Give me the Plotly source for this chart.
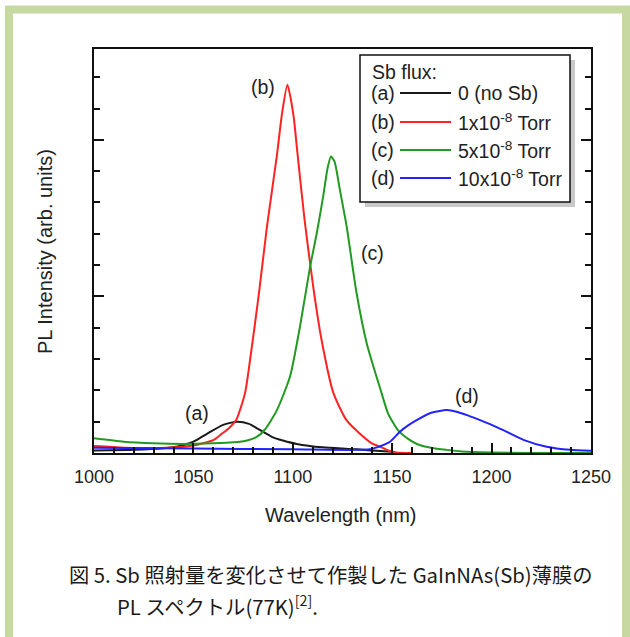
import plotly.graph_objects as go

# ---------------- data ----------------
wl_a = [1000, 1020, 1035, 1042, 1048, 1052, 1057, 1065, 1072, 1078, 1082, 1090, 1095, 1102, 1115, 1125, 1132, 1140, 1150]
pl_a = [0.08, 0.10, 0.15, 0.21, 0.31, 0.43, 0.62, 0.90, 1.00, 0.93, 0.79, 0.50, 0.40, 0.29, 0.18, 0.14, 0.12, 0.08, 0.04]

wl_b = [1000, 1015, 1031, 1048, 1060, 1064, 1068, 1071.5, 1076, 1078.5, 1083, 1087, 1092, 1094.5, 1097.3,
        1100.3, 1102.3, 1106, 1110.3, 1114.5, 1120.4, 1127, 1135.5, 1140, 1144, 1148, 1152, 1160]
pl_b = [0.22, 0.17, 0.15, 0.22, 0.41, 0.60, 0.80, 1.05, 1.92, 2.97, 5.11, 7.23, 9.50, 10.80, 11.76,
        10.80, 9.60, 7.40, 5.30, 3.60, 1.92, 1.05, 0.52, 0.30, 0.20, 0.08, 0.02, 0.0]

wl_c = [1000, 1015, 1030, 1045, 1060, 1070, 1077, 1082, 1086, 1092, 1098.6, 1103.6, 1108.7, 1112, 1115.3,
        1117.5, 1119.2, 1121, 1123.7, 1127.1, 1132.1, 1137.2, 1144, 1148, 1153, 1158, 1163, 1170, 1177.4,
        1185, 1195, 1250]
pl_c = [0.47, 0.36, 0.31, 0.29, 0.31, 0.34, 0.40, 0.52, 0.75, 1.37, 2.44, 4.03, 5.95, 7.00, 8.20,
        9.10, 9.47, 9.30, 8.40, 7.23, 5.10, 3.50, 2.05, 1.25, 0.72, 0.45, 0.27, 0.16, 0.10,
        0.05, 0.02, 0.0]

wl_d = [1000, 1050, 1100, 1130, 1138.8, 1144, 1148.9, 1153.9, 1158, 1162.3, 1169, 1177.4, 1182.4, 1188,
        1194.2, 1200, 1205.9, 1216, 1227.7, 1239.4, 1250]
pl_d = [0.17, 0.14, 0.12, 0.10, 0.12, 0.22, 0.36, 0.68, 0.88, 1.05, 1.27, 1.37, 1.32, 1.20,
        1.05, 0.90, 0.73, 0.42, 0.20, 0.10, 0.07]

series_tags = ["(a)", "(b)", "(c)", "(d)"]
series_names = ["0 (no Sb)", "1x10<sup>-8</sup> Torr", "5x10<sup>-8</sup> Torr", "10x10<sup>-8</sup> Torr"]
series_colors = ["#1a1a1a", "#ff2222", "#229a22", "#2222ff"]
x_ticks = [1000, 1050, 1100, 1150, 1200, 1250]
y_major = [5, 10]

# ---------------- geometry helpers ----------------
W, H = 630, 637
L, R, T, B = 94, 591, 49, 453
def px(x):
    return (x - L) / (R - L)
def py(y):
    return (B - y) / (B - T)

FONT = "Liberation Sans, Arial, sans-serif"
TXT = "#222222"

fig = go.Figure()
for wl, pl, c, n in zip([wl_a, wl_b, wl_c, wl_d], [pl_a, pl_b, pl_c, pl_d], series_colors, series_names):
    fig.add_trace(go.Scatter(x=wl, y=pl, mode="lines", name=n, showlegend=False,
                             line=dict(color=c, width=2, shape="spline", smoothing=0.6)))

shapes = []
# outer green frame
shapes.append(dict(type="rect", xref="paper", yref="paper", x0=px(9), x1=px(626), y0=py(643), y1=py(9.5),
                   line=dict(color="#c6d9a1", width=8), fillcolor="rgba(0,0,0,0)", layer="below"))
# legend shadow and box
shapes.append(dict(type="rect", xref="paper", yref="paper", x0=px(365), x1=px(575), y0=py(207), y1=py(60),
                   line=dict(width=0), fillcolor="#c9c9c9"))
shapes.append(dict(type="rect", xref="paper", yref="paper", x0=px(360), x1=px(570), y0=py(202), y1=py(55),
                   line=dict(color="#111111", width=1.5), fillcolor="white"))

annotations = []
annotations.append(dict(xref="paper", yref="paper", x=px(370), y=py(72), xanchor="left", yanchor="middle",
                        text="Sb flux:", showarrow=False, font=dict(family=FONT, size=19.5, color=TXT)))
row_y = [93, 122, 150, 178]
for tag, name, col, yy in zip(series_tags, series_names, series_colors, row_y):
    annotations.append(dict(xref="paper", yref="paper", x=px(369), y=py(yy), xanchor="left", yanchor="middle",
                            text=tag, showarrow=False, font=dict(family=FONT, size=19.5, color=TXT)))
    shapes.append(dict(type="line", xref="paper", yref="paper", x0=px(400), x1=px(451), y0=py(yy), y1=py(yy),
                       line=dict(color=col, width=2)))
    annotations.append(dict(xref="paper", yref="paper", x=px(456), y=py(yy), xanchor="left", yanchor="middle",
                            text=name, showarrow=False, font=dict(family=FONT, size=19.5, color=TXT)))

# curve labels
for tag, xx, yy in zip(series_tags, [1051.8, 1085, 1140.3, 1187.6], [1.27, 11.69, 6.39, 1.82]):
    annotations.append(dict(x=xx, y=yy, text=tag, showarrow=False, xanchor="center", yanchor="middle",
                            font=dict(family=FONT, size=19.5, color=TXT)))

# axis titles
annotations.append(dict(xref="paper", yref="paper", x=px(45), y=py(252), text="PL Intensity (arb. units)",
                        xanchor="center", yanchor="middle",
                        textangle=-90, showarrow=False, font=dict(family=FONT, size=20, color=TXT)))
annotations.append(dict(xref="paper", yref="paper", x=px(341), y=py(515), text="Wavelength (nm)",
                        xanchor="center", yanchor="middle",
                        showarrow=False, font=dict(family=FONT, size=20, color=TXT)))

# caption
CJK = "Noto Sans CJK JP, sans-serif"
annotations.append(dict(xref="paper", yref="paper", x=px(67), y=py(574), xanchor="left", yanchor="middle",
                        text="図 5. Sb 照射量を変化させて作製した GaInNAs(Sb)薄膜の", showarrow=False,
                        font=dict(family=CJK, size=20.3, color="#1a1a1a")))
annotations.append(dict(xref="paper", yref="paper", x=px(115), y=py(605), xanchor="left", yanchor="middle",
                        text="PL スペクトル(77K)<sup>[2]</sup>.", showarrow=False,
                        font=dict(family=CJK, size=20.3, color="#1a1a1a")))

fig.update_layout(
    width=W, height=H,
    margin=dict(l=L, r=W - R, t=T, b=H - B),
    paper_bgcolor="white", plot_bgcolor="white",
    shapes=shapes, annotations=annotations,
    xaxis=dict(range=[1000, 1250], tickvals=x_ticks, ticks="inside", ticklen=10, tickwidth=2,
               tickcolor="#111111", showline=True, linecolor="#111111", linewidth=2, mirror=True,
               showgrid=False, zeroline=False, tickfont=dict(family=FONT, size=18, color=TXT),
               ticklabelstandoff=6,
               minor=dict(dtick=10, ticks="inside", ticklen=6, tickwidth=1.5, tickcolor="#111111", showgrid=False)),
    yaxis=dict(range=[0, 12.9], tickvals=y_major, ticks="inside", ticklen=10, tickwidth=2,
               tickcolor="#111111", showline=True, linecolor="#111111", linewidth=2, mirror="ticks",
               showgrid=False, zeroline=False, showticklabels=False,
               minor=dict(dtick=1, ticks="inside", ticklen=6, tickwidth=1.5, tickcolor="#111111", showgrid=False)),
)

fig.write_html("out.html", config={"displayModeBar": False},
               post_script="document.body.style.margin='0';document.body.style.overflow='hidden';")
